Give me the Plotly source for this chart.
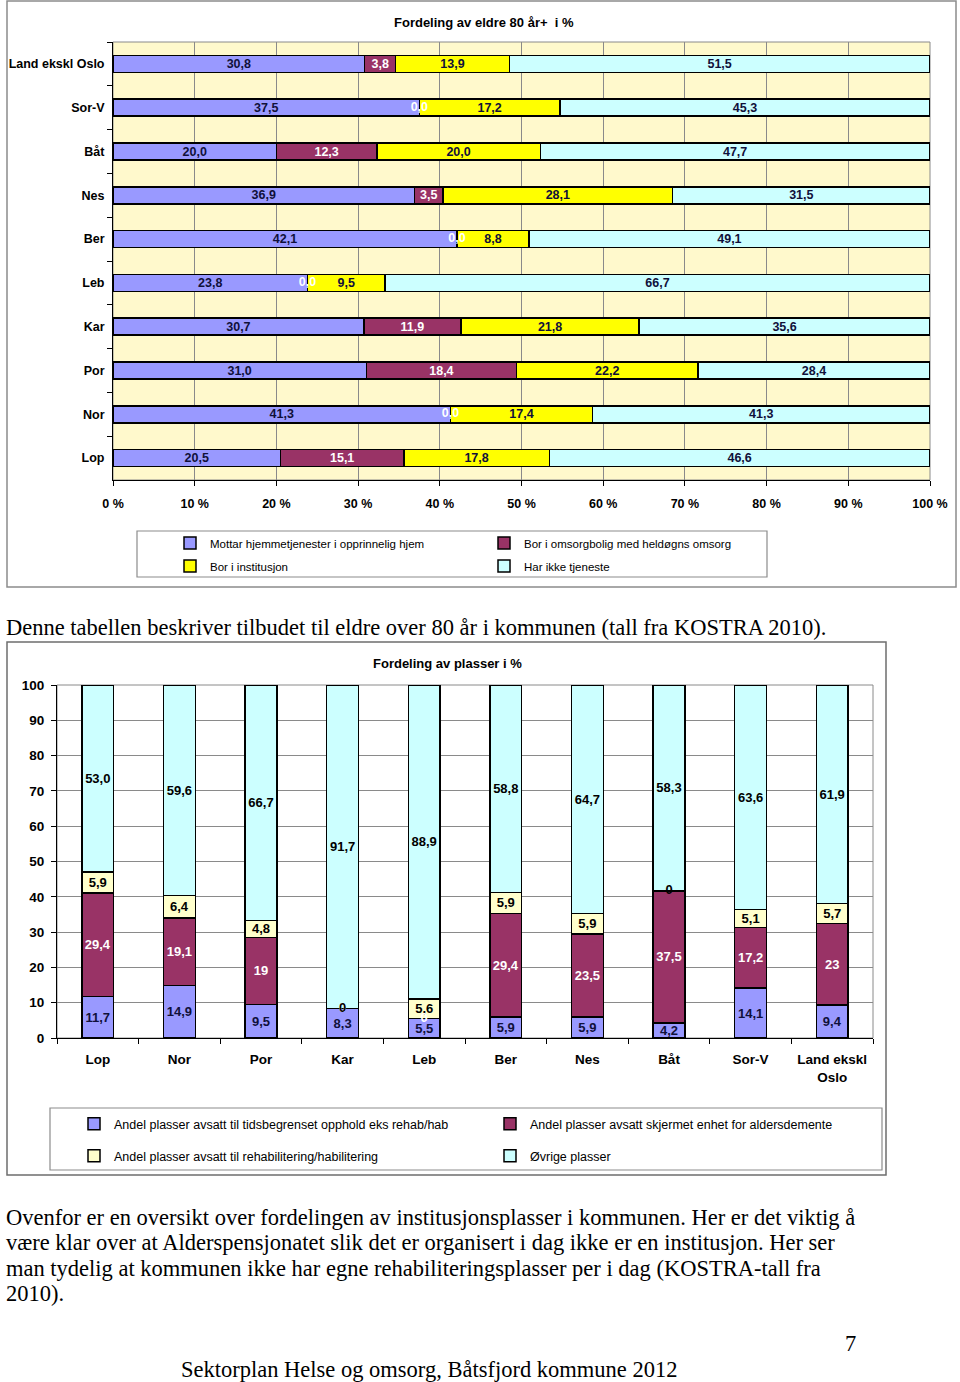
import plotly.graph_objects as go

W, H = 960, 1382


def px_x(x):
    return x / W


def px_y(y):
    return 1 - y / H


SANS = "Liberation Sans, Arial, sans-serif"
SERIF = "Liberation Serif, Times New Roman, serif"

# ---------------- Top chart data ----------------
top_title = "Fordeling av eldre 80 år+  i %"
top_cats = ["Land ekskl Oslo", "Sor-V", "Båt", "Nes", "Ber", "Leb", "Kar", "Por", "Nor", "Lop"]
top_hjemme = [30.8, 37.5, 20.0, 36.9, 42.1, 23.8, 30.7, 31.0, 41.3, 20.5]
top_omsorgbolig = [3.8, 0.0, 12.3, 3.5, 0.0, 0.0, 11.9, 18.4, 0.0, 15.1]
top_institusjon = [13.9, 17.2, 20.0, 28.1, 8.8, 9.5, 21.8, 22.2, 17.4, 17.8]
top_ingen = [51.5, 45.3, 47.7, 31.5, 49.1, 66.7, 35.6, 28.4, 41.3, 46.6]
top_names = ["Mottar hjemmetjenester i opprinnelig hjem",
             "Bor i omsorgbolig med heldøgns omsorg",
             "Bor i institusjon",
             "Har ikke tjeneste"]
top_ticks = [0, 10, 20, 30, 40, 50, 60, 70, 80, 90, 100]
top_ticktext = ["0 %", "10 %", "20 %", "30 %", "40 %", "50 %", "60 %", "70 %", "80 %", "90 %", "100 %"]

# ---------------- Bottom chart data ----------------
bot_title = "Fordeling av plasser i %"
bot_cats = ["Lop", "Nor", "Por", "Kar", "Leb", "Ber", "Nes", "Båt", "Sor-V", "Land ekskl<br>Oslo"]
bot_tids = [11.7, 14.9, 9.5, 8.3, 5.5, 5.9, 5.9, 4.2, 14.1, 9.4]
bot_skjermet = [29.4, 19.1, 19, 0, 0, 29.4, 23.5, 37.5, 17.2, 23]
bot_rehab = [5.9, 6.4, 4.8, 0, 5.6, 5.9, 5.9, 0, 5.1, 5.7]
bot_ovrige = [53.0, 59.6, 66.7, 91.7, 88.9, 58.8, 64.7, 58.3, 63.6, 61.9]
bot_names = ["Andel plasser avsatt til tidsbegrenset opphold eks rehab/hab",
             "Andel plasser avsatt skjermet enhet for aldersdemente",
             "Andel plasser avsatt til rehabilitering/habilitering",
             "Øvrige plasser"]
bot_ticks = [0, 10, 20, 30, 40, 50, 60, 70, 80, 90, 100]

# ---------------- Text ----------------
text_top = "Denne tabellen beskriver tilbudet til eldre over 80 år i kommunen (tall fra KOSTRA 2010)."
para_lines = [
    "Ovenfor er en oversikt over fordelingen av institusjonsplasser i kommunen. Her er det viktig å",
    "være klar over at Alderspensjonatet slik det er organisert i dag ikke er en institusjon. Her ser",
    "man tydelig at kommunen ikke har egne rehabiliteringsplasser per i dag (KOSTRA-tall fra",
    "2010).",
]
footer = "Sektorplan Helse og omsorg, Båtsfjord kommune 2012"
page_no = "7"

# colours
C_BLUE = "#9999FF"
C_MAROON = "#993366"
C_YELLOW = "#FFFF00"
C_PALEY = "#FFFFCC"
C_CYAN = "#CCFFFF"
C_NAVY = "#10103a"


def fmt_top(v):
    return f"{v:.1f}".replace(".", ",")


def fmt_bot(v):
    if isinstance(v, int):
        return str(v)
    return f"{v:.1f}".replace(".", ",")


fig = go.Figure()

# ---- top chart bars ----
top_series = [top_hjemme, top_omsorgbolig, top_institusjon, top_ingen]
top_colors = [C_BLUE, C_MAROON, C_YELLOW, C_CYAN]
top_txtcol = [C_NAVY, "white", C_NAVY, C_NAVY]
top_legends = ["legend", "legend", "legend2", "legend2"]
for vals, name, col, tc, lg in zip(top_series, top_names, top_colors, top_txtcol, top_legends):
    fig.add_trace(go.Bar(
        x=vals, y=top_cats, orientation="h", name=name,
        marker=dict(color=col, line=dict(color="black", width=1.5)),
        text=[fmt_top(v) if v != 0 else "" for v in vals],
        textposition="inside", insidetextanchor="middle", textangle=0,
        constraintext="none",
        textfont=dict(family=SANS, size=12.5, color=tc, weight="bold"),
        xaxis="x", yaxis="y", legend=lg, hoverinfo="skip",
    ))

# zero labels for top chart (placed at the stack boundary)
cum = [0.0] * len(top_cats)
for vals, tc in zip(top_series, top_txtcol):
    zx, zy, zt = [], [], []
    for i, v in enumerate(vals):
        if v == 0:
            zx.append(cum[i]); zy.append(top_cats[i]); zt.append(fmt_top(v))
        cum[i] += v
    if zx:
        fig.add_trace(go.Scatter(
            x=zx, y=zy, mode="text", text=zt, textposition="middle center",
            textfont=dict(family=SANS, size=12.5, color="white", weight="bold"),
            showlegend=False, xaxis="x", yaxis="y", hoverinfo="skip"))

# ---- bottom chart bars ----
bot_series = [bot_tids, bot_skjermet, bot_rehab, bot_ovrige]
bot_colors = [C_BLUE, C_MAROON, C_PALEY, C_CYAN]
bot_txtcol = [C_NAVY, "white", "black", "black"]
bot_legends = ["legend3", "legend3", "legend4", "legend4"]
for vals, name, col, tc, lg in zip(bot_series, bot_names, bot_colors, bot_txtcol, bot_legends):
    fig.add_trace(go.Bar(
        x=bot_cats, y=vals, name=name,
        marker=dict(color=col, line=dict(color="black", width=1.5)),
        text=[fmt_bot(v) if v != 0 else "" for v in vals],
        textposition="inside", insidetextanchor="middle", textangle=0,
        constraintext="none",
        textfont=dict(family=SANS, size=13, color=tc, weight="bold"),
        xaxis="x2", yaxis="y2", legend=lg, hoverinfo="skip",
    ))

cum = [0.0] * len(bot_cats)
for vals, tc in zip(bot_series, bot_txtcol):
    zx, zy, zt = [], [], []
    for i, v in enumerate(vals):
        if v == 0:
            zx.append(bot_cats[i]); zy.append(cum[i]); zt.append(fmt_bot(v))
        cum[i] += v
    if zx:
        fig.add_trace(go.Scatter(
            x=zx, y=zy, mode="text", text=zt, textposition="middle center",
            textfont=dict(family=SANS, size=13, color=tc, weight="bold"),
            showlegend=False, xaxis="x2", yaxis="y2", hoverinfo="skip"))

fig.update_layout(
    width=W, height=H, autosize=False,
    margin=dict(l=0, r=0, t=0, b=0, pad=0),
    paper_bgcolor="white", plot_bgcolor="rgba(0,0,0,0)",
    barmode="stack", bargap=0.61,
    showlegend=True,
    font=dict(family=SANS, color="black"),
    xaxis=dict(domain=[px_x(113), px_x(930)], anchor="y", range=[0, 100],
               tickvals=top_ticks, ticktext=top_ticktext, showgrid=True,
               gridcolor="#8a8a8a", gridwidth=1, zeroline=False,
               showline=True, linecolor="black", linewidth=1,
               ticks="outside", ticklen=5, tickcolor="black", automargin=False,
               ticklabelstandoff=7,
               tickfont=dict(family=SANS, size=12.5, color="black", weight="bold"),
               fixedrange=True),
    yaxis=dict(domain=[px_y(480), px_y(42)], anchor="x",
               categoryorder="array", categoryarray=top_cats,
               autorange="reversed", showgrid=False, zeroline=False,
               showline=True, linecolor="black", linewidth=1,
               ticks="outside", tickson="boundaries", ticklen=5, tickcolor="black",
               automargin=False, ticklabelstandoff=5,
               tickfont=dict(family=SANS, size=12.5, color="black", weight="bold"),
               fixedrange=True),
    xaxis2=dict(domain=[px_x(57), px_x(873)], anchor="y2",
                categoryorder="array", categoryarray=bot_cats,
                showgrid=False, zeroline=False, tickangle=0,
                showline=True, linecolor="black", linewidth=1,
                ticks="outside", tickson="boundaries", ticklen=5, tickcolor="black",
                automargin=False, ticklabelstandoff=9,
                tickfont=dict(family=SANS, size=13.5, color="black", weight="bold"),
                fixedrange=True),
    yaxis2=dict(domain=[px_y(1038), px_y(685)], anchor="x2", range=[0, 100],
                tickvals=bot_ticks, showgrid=True, gridcolor="#8a8a8a", gridwidth=1,
                zeroline=False, showline=True, linecolor="black", linewidth=1,
                ticks="outside", ticklen=5, tickcolor="black", automargin=False,
                ticklabelstandoff=4,
                tickfont=dict(family=SANS, size=13.5, color="black", weight="bold"),
                fixedrange=True),
)

leg_common = dict(orientation="h", xanchor="left", yanchor="middle",
                  entrywidthmode="pixels", traceorder="normal",
                  bgcolor="rgba(0,0,0,0)", borderwidth=0, itemwidth=30,
                  itemclick=False, itemdoubleclick=False)
fig.update_layout(
    legend=dict(x=px_x(170), y=px_y(543), entrywidth=269,
                font=dict(family=SANS, size=11.5, color="black"), **leg_common),
    legend2=dict(x=px_x(170), y=px_y(566), entrywidth=269,
                 font=dict(family=SANS, size=11.5, color="black"), **leg_common),
    legend3=dict(x=px_x(74), y=px_y(1124), entrywidth=371,
                 font=dict(family=SANS, size=12.5, color="black"), **leg_common),
    legend4=dict(x=px_x(74), y=px_y(1156), entrywidth=371,
                 font=dict(family=SANS, size=12.5, color="black"), **leg_common),
)


def rect(x0, y0, x1, y1, color, width=1, fill=None, layer="above"):
    return dict(type="rect", xref="paper", yref="paper",
                x0=px_x(x0), x1=px_x(x1), y0=px_y(y1), y1=px_y(y0),
                line=dict(color=color, width=width),
                fillcolor=fill if fill else "rgba(0,0,0,0)", layer=layer)


shapes = [
    rect(7, 1, 956, 587, "#8c8c8c", 1.5),
    rect(113, 42, 930, 480, "#8a8a8a", 1, fill="#FFF9CC", layer="below"),
    rect(137, 531, 767, 577, "#8c8c8c", 1.2),
    rect(7, 642, 886, 1175, "#6e6e6e", 1.5),
    rect(57, 685, 873, 1038, "#8a8a8a", 1, layer="below"),
    rect(50, 1108, 882, 1170, "#8c8c8c", 1.2),
]
fig.update_layout(shapes=shapes)

ann = []
ann.append(dict(text=top_title, x=px_x(484), y=px_y(22), xref="paper", yref="paper",
                showarrow=False, xanchor="center", yanchor="middle",
                font=dict(family=SANS, size=13, color="black", weight="bold")))
ann.append(dict(text=bot_title, x=px_x(447), y=px_y(663), xref="paper", yref="paper",
                showarrow=False, xanchor="center", yanchor="middle",
                font=dict(family=SANS, size=13, color="black", weight="bold")))
ann.append(dict(text=text_top, x=px_x(4), y=px_y(628), xref="paper", yref="paper",
                showarrow=False, xanchor="left", yanchor="middle",
                font=dict(family=SERIF, size=22.5, color="black")))
for i, line in enumerate(para_lines):
    ann.append(dict(text=line, x=px_x(4), y=px_y(1217 + i * 25.6), xref="paper", yref="paper",
                    showarrow=False, xanchor="left", yanchor="middle",
                    font=dict(family=SERIF, size=22.5, color="black")))
ann.append(dict(text=page_no, x=px_x(850), y=px_y(1343), xref="paper", yref="paper",
                showarrow=False, xanchor="center", yanchor="middle",
                font=dict(family=SERIF, size=22.5, color="black")))
ann.append(dict(text=footer, x=px_x(429), y=px_y(1369), xref="paper", yref="paper",
                showarrow=False, xanchor="center", yanchor="middle",
                font=dict(family=SERIF, size=22.5, color="black")))
fig.update_layout(annotations=ann)

fig.write_html("out.html", include_plotlyjs=True, config={"displayModeBar": False},
               post_script="document.body.style.margin='0';document.body.style.overflow='hidden';")
